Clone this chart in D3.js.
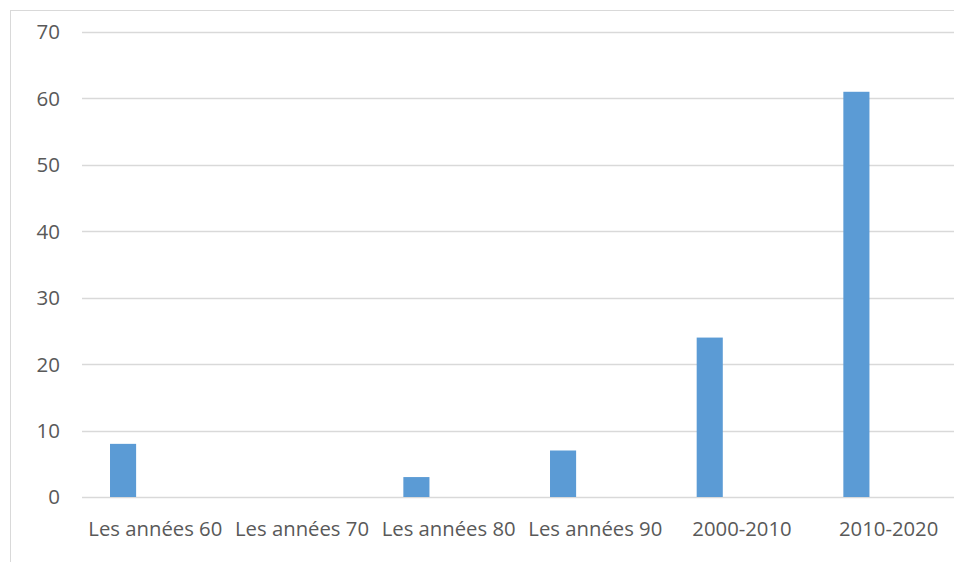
<!DOCTYPE html>
<html><head><meta charset="utf-8">
<script src="https://cdn.jsdelivr.net/npm/d3@7"></script>
<style>body{margin:0;background:#fff;} svg{display:block;}</style>
</head><body>
<script>
const categories = ["Les années 60","Les années 70","Les années 80","Les années 90","2000-2010","2010-2020"];
const values = [8, 0, 3, 7, 24, 61];
const yTicks = [0,10,20,30,40,50,60,70];

(function(){
const W = 954, H = 562;
const svg = d3.select("body").append("svg").attr("width", W).attr("height", H);
svg.append("rect").attr("x",10.5).attr("y",10.5).attr("width",W+20).attr("height",H+20)
  .attr("fill","#fff").attr("stroke","#d9d9d9").attr("stroke-width",1);

const mLeft = 82, mRight = 962, mTop = 32, mBottom = 497;
const x = d3.scaleBand().domain(categories).range([mLeft, mRight]).padding(0);
const y = d3.scaleLinear().domain([0,70]).range([mBottom, mTop]);

const font = "'Open Sans', 'Liberation Sans', Arial, sans-serif";
svg.append("g").selectAll("line").data(yTicks).join("line")
  .attr("x1", mLeft).attr("x2", W).attr("y1", d=>Math.round(y(d))+0.5).attr("y2", d=>Math.round(y(d))+0.5)
  .attr("stroke","#d9d9d9").attr("stroke-width",1.5);

svg.append("g").selectAll("text").data(yTicks).join("text")
  .attr("x", 60).attr("y", d=>y(d)).attr("dy","0.36em").attr("text-anchor","end")
  .attr("font-family", font).attr("font-size", 20.5).attr("fill","#595959").text(d=>d);

const bw = x.bandwidth();
svg.append("g").selectAll("rect").data(values).join("rect")
  .attr("x",(d,i)=>x(categories[i]) + bw*0.191)
  .attr("width", bw*0.178)
  .attr("y", d=>y(d)).attr("height", d=>y(0)-y(d))
  .attr("fill","#5b9bd5");

svg.append("g").selectAll("text").data(categories).join("text")
  .attr("x", d=>x(d)+bw/2).attr("y", 536).attr("text-anchor","middle")
  .attr("font-family", font).attr("font-size", 20.3).attr("fill","#595959").text(d=>d);
})();
</script>
</body></html>
